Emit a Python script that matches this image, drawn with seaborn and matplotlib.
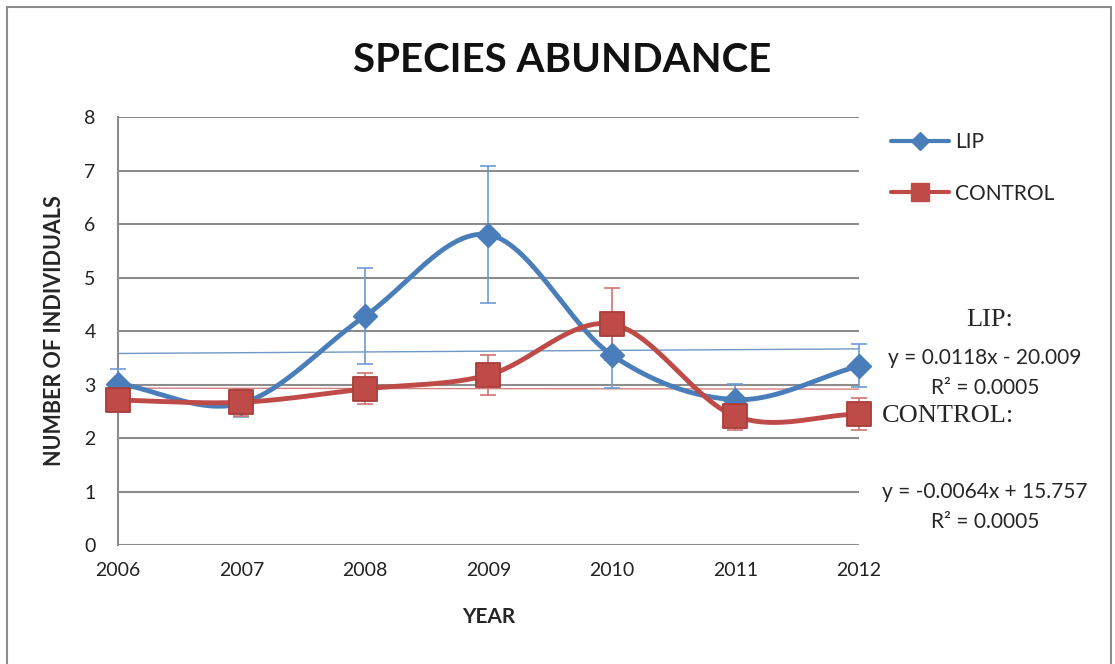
import numpy as np
import pandas as pd
import matplotlib
matplotlib.use("Agg")
import matplotlib.pyplot as plt
from matplotlib.lines import Line2D
from matplotlib.patches import Rectangle
import seaborn as sns

years = [2006, 2007, 2008, 2009, 2010, 2011, 2012]
lip = [3.02, 2.65, 4.28, 5.8, 3.55, 2.72, 3.35]
lip_err = [0.28, 0.25, 0.89, 1.28, 0.62, 0.3, 0.4]
control = [2.71, 2.67, 2.92, 3.18, 4.13, 2.41, 2.45]
control_err = [0.2, 0.25, 0.29, 0.37, 0.67, 0.25, 0.3]

lip_label = ["LIP:", "y = 0.0118x - 20.009", "R\u00b2 = 0.0005"]
control_label = ["CONTROL:", "y = -0.0064x + 15.757", "R\u00b2 = 0.0005"]

BLUE = "#4A7EBB"
RED = "#BE4B48"


def smooth(x, y, n=30):
    # catmull-rom style smoothing like excel's "smoothed line"
    x = np.asarray(x, float)
    y = np.asarray(y, float)
    px = np.concatenate([[2 * x[0] - x[1]], x, [2 * x[-1] - x[-2]]])
    py = np.concatenate([[2 * y[0] - y[1]], y, [2 * y[-1] - y[-2]]])
    xs, ys = [], []
    t = np.linspace(0, 1, n)
    for i in range(1, len(px) - 2):
        for arr, out in ((px, xs), (py, ys)):
            p0, p1, p2, p3 = arr[i - 1], arr[i], arr[i + 1], arr[i + 2]
            out.extend(0.5 * ((2 * p1) + (-p0 + p2) * t
                              + (2 * p0 - 5 * p1 + 4 * p2 - p3) * t ** 2
                              + (-p0 + 3 * p1 - 3 * p2 + p3) * t ** 3))
    return xs, ys


df = pd.DataFrame({"year": years, "LIP": lip, "CONTROL": control})

sns.set_style("white")
plt.rcParams["font.family"] = ["Lato", "DejaVu Sans"]

fig = plt.figure(figsize=(11.15, 6.64), dpi=100)
ax = fig.add_axes([0.1058, 0.179, 0.6646, 0.6448])

# trendlines
sns.regplot(data=df, x="year", y="LIP", scatter=False, ci=None, ax=ax,
            line_kws={"color": BLUE, "lw": 1, "alpha": 0.8})
sns.regplot(data=df, x="year", y="CONTROL", scatter=False, ci=None, ax=ax,
            line_kws={"color": RED, "lw": 1, "alpha": 0.7})

ax.errorbar(years, lip, yerr=lip_err, fmt="none", ecolor="#6C9BD2", elinewidth=1.2,
            capsize=6, capthick=1.2, zorder=3, clip_on=False)
ax.errorbar(years, control, yerr=control_err, fmt="none", ecolor="#D07471", elinewidth=1.2,
            capsize=6, capthick=1.2, zorder=3, clip_on=False)

sx, sy = smooth(years, lip)
ax.plot(sx, sy, color=BLUE, lw=3.5, zorder=4)
sns.scatterplot(x=years, y=lip, marker="D", s=150, color=BLUE, edgecolor=BLUE, ax=ax,
                zorder=5, clip_on=False)
sx, sy = smooth(years, control)
ax.plot(sx, sy, color=RED, lw=3.5, zorder=6)
sns.scatterplot(x=years, y=control, marker="s", s=280, color=RED, edgecolor="#A8403D", ax=ax,
                zorder=7, clip_on=False)

ax.set_xlim(2006, 2012)
ax.set_ylim(0, 8)
ax.set_yticks(range(0, 9))
ax.set_xticks(years)
ax.yaxis.grid(True, color="#8C8C8C", lw=1.5)
ax.set_axisbelow(True)
for s in ["top", "right", "bottom"]:
    ax.spines[s].set_visible(False)
ax.spines["left"].set_color("#8C8C8C")
ax.spines["left"].set_linewidth(1.5)
ax.tick_params(axis="y", length=8, width=1.5, color="#8C8C8C", labelsize=14, pad=8, colors="#222222")
ax.tick_params(axis="x", length=7, width=1.5, color="#8C8C8C", labelsize=14, pad=5, colors="#222222")
for t in ax.yaxis.get_ticklines() + ax.xaxis.get_ticklines():
    t.set_color("#8C8C8C")
ax.set_xlabel("YEAR", fontsize=15, fontweight="bold", labelpad=20)
ax.set_ylabel("NUMBER OF INDIVIDUALS", fontsize=15.5, fontweight="bold", labelpad=14)
fig.text(562 / 1115, 1 - 60 / 664, "SPECIES ABUNDANCE", ha="center", va="center",
         fontsize=29, fontweight="bold", color="#111111")

handles = [
    Line2D([0], [0], color=BLUE, lw=3, marker="D", markersize=9),
    Line2D([0], [0], color=RED, lw=3, marker="s", markersize=13),
]
ax.legend(handles, ["LIP", "CONTROL"], loc="upper left", bbox_to_anchor=(1.018, 1.008),
          frameon=False, fontsize=15, handlelength=2.8, handletextpad=0.25, labelspacing=1.5)

# trendline labels
fig.text(990 / 1115, 1 - 320 / 664, lip_label[0], ha="center", va="center", fontsize=19, family="Liberation Serif")
fig.text(985 / 1115, 1 - 358 / 664, lip_label[1], ha="center", va="center", fontsize=15)
fig.text(985 / 1115, 1 - 388 / 664, lip_label[2], ha="center", va="center", fontsize=15)
fig.text(948 / 1115, 1 - 416 / 664, control_label[0], ha="center", va="center", fontsize=19, family="Liberation Serif")
fig.text(985 / 1115, 1 - 492 / 664, control_label[1], ha="center", va="center", fontsize=15)
fig.text(985 / 1115, 1 - 522 / 664, control_label[2], ha="center", va="center", fontsize=15)

fig.patches.append(Rectangle((0.006, -0.01), 0.99, 1.0, transform=fig.transFigure,
                             fill=False, edgecolor="#8C8C8C", lw=1.5))

fig.savefig("out.png", dpi=100)
